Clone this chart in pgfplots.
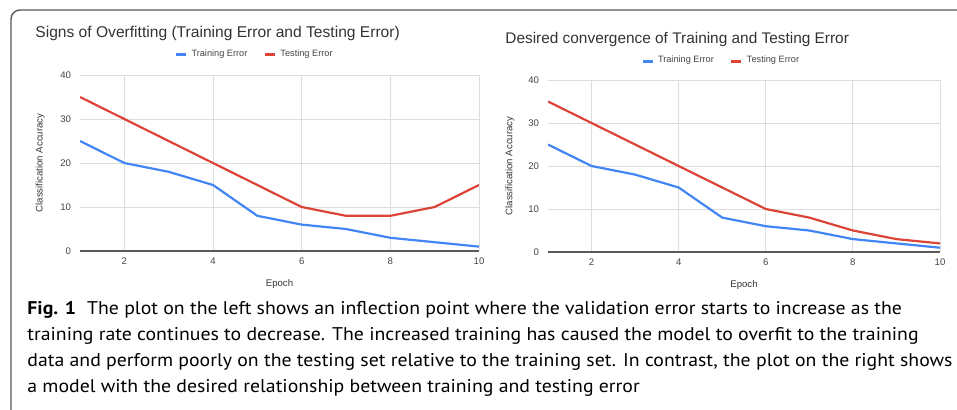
\documentclass[border=0pt]{standalone}
\usepackage{pgfplots}
\pgfplotsset{compat=1.18}
\usepackage{fontspec}
\setmainfont{Liberation Sans}
\newfontfamily\capfont[FakeStretch=1.075]{PT Sans}

\definecolor{gblue}{HTML}{4285F4}
\definecolor{gred}{HTML}{DB4437}
\definecolor{gridc}{HTML}{DDDDDD}
\definecolor{txt}{HTML}{444444}

\pgfplotsset{
  gchart/.style={
    scale only axis,
    xmin=1, xmax=10, ymin=0, ymax=40,
    xtick={2,4,6,8,10}, ytick={0,10,20,30,40},
    grid=major, major grid style={gridc, line width=0.5pt},
    axis line style={draw=none},
    tick style={draw=none},
    extra y ticks={0}, extra y tick labels={},
    extra y tick style={grid=major, major grid style={black!65, line width=0.8pt}},
    /pgf/number format/assume math mode=true,
    ticklabel style={font=\fontsize{4.8}{5}\selectfont, text=txt},
    xticklabel style={anchor=center, yshift=-5pt},
    yticklabel style={anchor=east, xshift=-1pt},
    xlabel={Epoch}, ylabel={Classification Accuracy},
    label style={font=\fontsize{4.8}{5}\selectfont, text=black!80},
    legend columns=2,
    legend style={draw=none, fill=none, font=\fontsize{4.6}{5}\selectfont,
      anchor=center, text=txt,
      /tikz/every even column/.append style={column sep=6pt}},
    legend image code/.code={\draw[line width=1.5pt] (0pt,0pt) -- (5pt,0pt);},
    every axis plot/.append style={line width=1.1pt, mark=none},
  }
}

\begin{document}
\begin{tikzpicture}
\useasboundingbox (0,0) rectangle (478.5pt,204.5pt);
\clip (0,0) rectangle (478.5pt,204.5pt);

% figure frame
\draw[black!65, line width=0.7pt, rounded corners=4.5pt] (5.5pt,-5pt) |- (490pt,199.5pt);

% left chart
\begin{axis}[gchart, at={(40pt,79pt)}, anchor=south west,
  width=199.5pt, height=88pt,
  xlabel style={at={(axis description cs:0.5,-0.1875)}, anchor=center},
  ylabel style={at={(axis description cs:-0.1,0.5)}, anchor=center},
  legend style={at={(0.44,1.114)}}]
\addplot[gblue] coordinates {(1,25) (2,20) (3,18) (4,15) (5,8) (6,6) (7,5) (8,3) (9,2) (10,1)};
\addplot[gred] coordinates {(1,35) (2,30) (3,25) (4,20) (5,15) (6,10) (7,8) (8,8) (9,10) (10,15)};
\legend{Training Error, Testing Error}
\end{axis}
\node[anchor=base west, font=\fontsize{7.8}{9}\selectfont, text=black!80, inner sep=0pt]
  at (17.5pt,186pt) {Signs of Overfitting (Training Error and Testing Error)};

% right chart
\begin{axis}[gchart, at={(274pt,78.5pt)}, anchor=south west,
  width=196pt, height=86pt,
  xlabel style={at={(axis description cs:0.5,-0.192)}, anchor=center},
  ylabel style={at={(axis description cs:-0.097,0.5)}, anchor=center},
  legend style={at={(0.444,1.11)}}]
\addplot[gblue] coordinates {(1,25) (2,20) (3,18) (4,15) (5,8) (6,6) (7,5) (8,3) (9,2) (10,1)};
\addplot[gred] coordinates {(1,35) (2,30) (3,25) (4,20) (5,15) (6,10) (7,8) (8,5) (9,3) (10,2)};
\legend{Training Error, Testing Error}
\end{axis}
\node[anchor=base west, font=\fontsize{7.7}{9}\selectfont, text=black!80, inner sep=0pt]
  at (252.5pt,183pt) {Desired convergence of Training and Testing Error};

% caption
\begin{scope}[every node/.style={anchor=base west, inner sep=0pt,
    font=\capfont\fontsize{9.2}{11}\selectfont}]
\node at (13.5pt,47.5pt) {\textbf{Fig. 1}\hspace{0.6em}The plot on the left shows an inflection point where the validation error starts to increase as the};
\node at (13.5pt,34.5pt) {training rate continues to decrease. The increased training has caused the model to overfit to the training};
\node at (13.5pt,21.5pt) {data and perform poorly on the testing set relative to the training set. In contrast, the plot on the right shows};
\node at (13.5pt,8.5pt) {a model with the desired relationship between training and testing error};
\end{scope}
\end{tikzpicture}
\end{document}
